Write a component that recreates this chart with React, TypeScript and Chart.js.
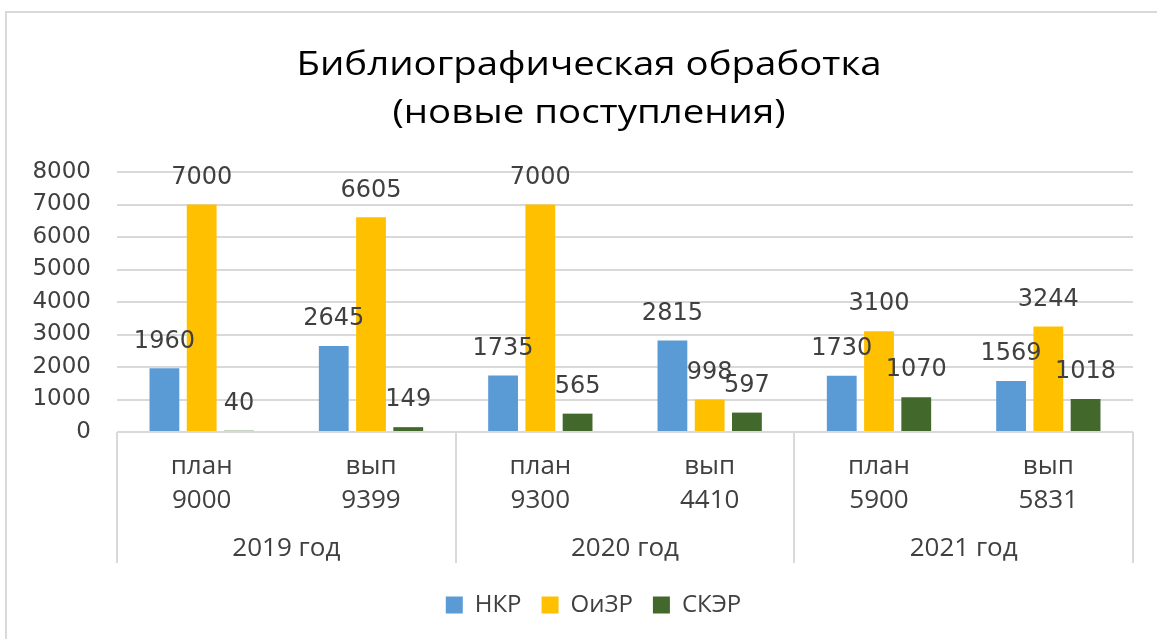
import React, { useEffect, useRef } from "react";
import { Chart, registerables } from "chart.js";

Chart.register(...registerables);

const titleLines = ["Библиографическая обработка", "(новые поступления)"];
const kinds = ["план", "вып", "план", "вып", "план", "вып"];
const totals = ["9000", "9399", "9300", "4410", "5900", "5831"];
const years = ["2019 год", "2020 год", "2021 год"];
const seriesNames = ["НКР", "ОиЗР", "СКЭР"];
const nkr = [1960, 2645, 1735, 2815, 1730, 1569];
const oizr = [7000, 6605, 7000, 998, 3100, 3244];
const sker = [40, 149, 565, 597, 1070, 1018];
const yTicks = [0, 1000, 2000, 3000, 4000, 5000, 6000, 7000, 8000];

const colors = ["#5B9BD5", "#FFC000", "#43682B"];
const textColor = "#404040";
const gridColor = "#D9D9D9";
const labelFont = "'DejaVu Sans', Verdana, sans-serif";
const catFont = "'Open Sans', 'Noto Sans', sans-serif";

const titlePlugin = {
  id: "stretchedTitle",
  afterDraw(chart: any) {
    const ctx = chart.ctx;
    ctx.save();
    ctx.font = `32px ${catFont}`;
    ctx.fillStyle = "#000000";
    ctx.textAlign = "center";
    ctx.textBaseline = "alphabetic";
    const cx = 589;
    const baselines = [75, 123];
    titleLines.forEach((line, i) => {
      ctx.save();
      ctx.translate(cx, baselines[i]);
      ctx.scale(1.2, 1);
      ctx.fillText(line, 0, 0);
      ctx.restore();
    });
    ctx.restore();
  },
};

const legendShift = {
  id: "legendShift",
  afterLayout(chart: any) {
    const lg = chart.legend;
    if (lg) {
      lg.left += 17;
      lg.right += 17;
    }
  },
};

const valueLabels = {
  id: "valueLabels",
  afterDatasetsDraw(chart: any) {
    const ctx = chart.ctx;
    ctx.save();
    ctx.font = `24px ${labelFont}`;
    ctx.fillStyle = textColor;
    ctx.textAlign = "center";
    ctx.textBaseline = "middle";
    chart.data.datasets.forEach((ds: any, i: number) => {
      const meta = chart.getDatasetMeta(i);
      meta.data.forEach((bar: any, j: number) => {
        ctx.fillText(String(ds.data[j]), bar.x, bar.y - 27);
      });
    });
    ctx.restore();
  },
};

const groupAxis = {
  id: "groupAxis",
  afterDraw(chart: any) {
    const ctx = chart.ctx;
    const area = chart.chartArea;
    const n = chart.data.labels.length;
    const step = (area.right - area.left) / n;
    ctx.save();
    ctx.strokeStyle = gridColor;
    ctx.lineWidth = 2;
    const per = n / years.length;
    for (let g = 0; g <= years.length; g++) {
      const px = Math.round(area.left + g * per * step);
      ctx.beginPath();
      ctx.moveTo(px, area.bottom);
      ctx.lineTo(px, area.bottom + 131);
      ctx.stroke();
    }
    ctx.font = `26px ${catFont}`;
    ctx.fillStyle = textColor;
    ctx.textAlign = "center";
    ctx.textBaseline = "middle";
    years.forEach((y, g) => {
      const cx = area.left + (g + 0.5) * per * step;
      ctx.fillText(y, cx, area.bottom + 117);
    });
    ctx.restore();
  },
};

export default function App() {
  const ref = useRef<HTMLCanvasElement>(null);
  useEffect(() => {
    if (!ref.current) return;
    const labels = kinds.map((k, i) => [k, totals[i]]);
    const data = [nkr, oizr, sker];
    const chart = new Chart(ref.current, {
      type: "bar",
      data: {
        labels,
        datasets: seriesNames.map((name, i) => ({
          label: name,
          data: data[i],
          backgroundColor: colors[i],
          borderWidth: 0,
          categoryPercentage: 0.66,
          barPercentage: 0.8,
        })),
      },
      options: {
        animation: false,
        responsive: false,
        maintainAspectRatio: false,
        layout: { padding: { left: 20, right: 24, top: 172, bottom: 12 } },
        plugins: {
          title: { display: false },
          legend: {
            position: "bottom",
            labels: {
              boxWidth: 17,
              boxHeight: 17,
              padding: 20,
              color: textColor,
              font: { family: catFont, size: 24 },
            },
          },
          tooltip: { enabled: false },
        },
        scales: {
          x: {
            grid: { display: false, drawTicks: false },
            border: { display: false },
            ticks: {
              color: textColor,
              font: { family: catFont, size: 26, lineHeight: 1.3 },
              padding: 18,
              maxRotation: 0,
              autoSkip: false,
            },
            afterFit(scale: any) {
              scale.height = 141;
            },
          },
          y: {
            min: 0,
            max: 8000,
            afterBuildTicks(scale: any) {
              scale.ticks = yTicks.map((v) => ({ value: v }));
            },
            grid: { color: gridColor, lineWidth: 2, drawTicks: false },
            border: { display: false },
            ticks: {
              color: textColor,
              font: { family: labelFont, size: 23 },
              padding: 26,
              callback: (v: any) => String(v),
            },
            afterFit(scale: any) {
              scale.width = 97;
            },
          },
        },
      },
      plugins: [legendShift, valueLabels, groupAxis, titlePlugin],
    });
    return () => chart.destroy();
  }, []);

  return (
    <div style={{ position: "fixed", left: 0, top: 0, width: 1157, height: 639, background: "#fff" }}>
      <div
        style={{
          position: "absolute",
          left: 5,
          top: 11,
          right: 0,
          bottom: 0,
          borderTop: "2px solid #D9D9D9",
          borderLeft: "2px solid #D9D9D9",
        }}
      />
      <canvas ref={ref} width={1157} height={639} style={{ position: "absolute", left: 0, top: 0 }} />
    </div>
  );
}
